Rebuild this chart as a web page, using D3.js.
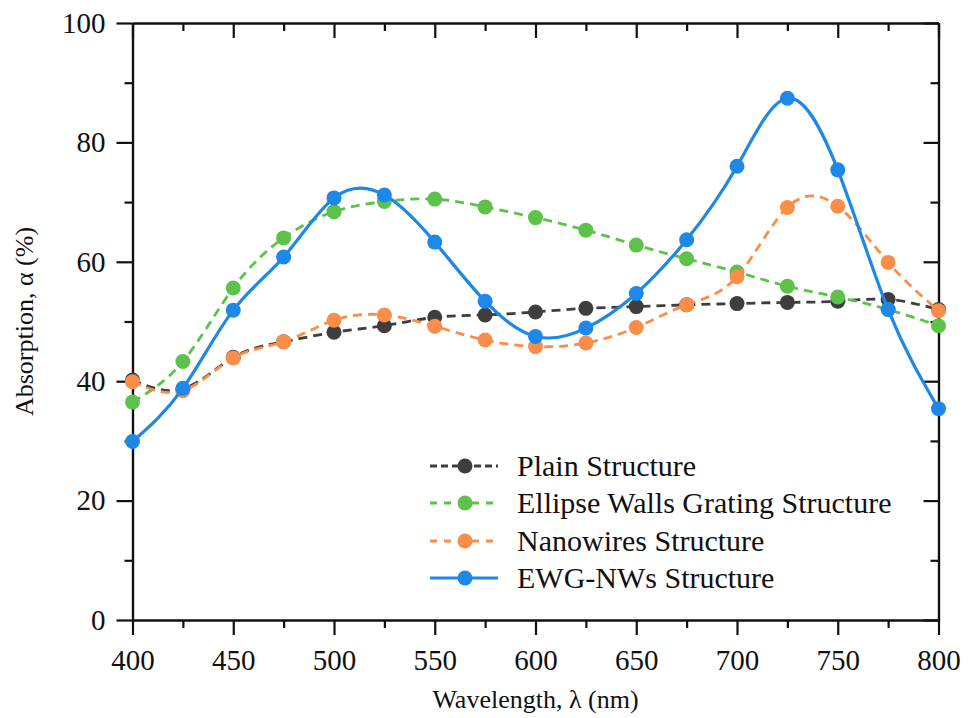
<!DOCTYPE html>
<html>
<head>
<meta charset="utf-8">
<script src="https://cdn.jsdelivr.net/npm/d3@7"></script>
<style>
body { margin: 0; background: #fff; }
text { font-family: "Liberation Serif", "Times New Roman", serif; fill: #111; }
</style>
</head>
<body>
<div id="chart"></div>
<script>
var width = 975;
var height = 718;

// data
var wavelengths = [400, 425, 450, 475, 500, 525, 550, 575, 600, 625, 650, 675, 700, 725, 750, 775, 800];
var plain =    [40.2, 38.7, 44.0, 46.6, 48.2, 49.3, 50.7, 51.1, 51.6, 52.2, 52.5, 52.8, 53.0, 53.2, 53.4, 53.7, 52.0];
var ellipse =  [36.5, 43.3, 55.6, 64.0, 68.4, 70.1, 70.5, 69.2, 67.4, 65.3, 62.8, 60.5, 58.3, 55.9, 54.1, 52.0, 49.3];
var nanowire = [39.9, 38.4, 43.9, 46.6, 50.2, 51.1, 49.2, 46.9, 45.8, 46.4, 49.0, 52.8, 57.5, 69.1, 69.3, 59.9, 51.8];
var ewgnw =    [29.9, 38.8, 51.9, 60.8, 70.7, 71.2, 63.3, 53.4, 47.5, 48.9, 54.7, 63.7, 76.0, 87.4, 75.4, 52.0, 35.4];

var seriesNames = ["Plain Structure", "Ellipse Walls Grating Structure", "Nanowires Structure", "EWG-NWs Structure"];
var seriesColors = ["#3e3e3e", "#5cc24a", "#fa8d48", "#1e88e8"];
var seriesDash = ["9,6", "9,6", "9,6", null];
var seriesValues = [plain, ellipse, nanowire, ewgnw];

var xMajor = [400, 450, 500, 550, 600, 650, 700, 750, 800];
var xMinor = [425, 475, 525, 575, 625, 675, 725, 775];
var yMajor = [0, 20, 40, 60, 80, 100];
var yMinor = [10, 30, 50, 70, 90];

// plot box (note: "top" is a reserved window property, so use other names)
var plotLeft = 132.5, plotRight = 938.5, plotTop = 23, plotBottom = 620;

var svg = d3.select("#chart").append("svg").attr("width", width).attr("height", height);

var x = d3.scaleLinear().domain([400, 800]).range([plotLeft, plotRight]);
var y = d3.scaleLinear().domain([0, 100]).range([plotBottom, plotTop]);

// axes
function styleAxis(g) {
    g.selectAll("path").attr("stroke", "#111").attr("stroke-width", 2.2);
    g.selectAll("line").attr("stroke", "#111").attr("stroke-width", 2.2);
    g.selectAll("text").attr("font-size", "29px").attr("font-family", "Liberation Serif").attr("fill", "#111");
}

var bottomAxis = svg.append("g").attr("transform", "translate(0," + plotBottom + ")")
    .call(d3.axisBottom(x).tickValues(xMajor).tickSize(15).tickPadding(14).tickSizeOuter(0));
styleAxis(bottomAxis);
var bottomMinor = svg.append("g").attr("transform", "translate(0," + plotBottom + ")")
    .call(d3.axisBottom(x).tickValues(xMinor).tickSize(8).tickFormat("").tickSizeOuter(0));
styleAxis(bottomMinor);

var topAxis = svg.append("g").attr("transform", "translate(0," + plotTop + ")")
    .call(d3.axisBottom(x).tickValues(xMajor).tickSize(15).tickFormat("").tickSizeOuter(0));
styleAxis(topAxis);
var topMinor = svg.append("g").attr("transform", "translate(0," + plotTop + ")")
    .call(d3.axisBottom(x).tickValues(xMinor).tickSize(8).tickFormat("").tickSizeOuter(0));
styleAxis(topMinor);

var leftAxis = svg.append("g").attr("transform", "translate(" + plotLeft + ",0)")
    .call(d3.axisLeft(y).tickValues(yMajor).tickSize(16).tickPadding(11).tickSizeOuter(0));
styleAxis(leftAxis);
var leftMinor = svg.append("g").attr("transform", "translate(" + plotLeft + ",0)")
    .call(d3.axisLeft(y).tickValues(yMinor).tickSize(8).tickFormat("").tickSizeOuter(0));
styleAxis(leftMinor);

var rightAxis = svg.append("g").attr("transform", "translate(" + plotRight + ",0)")
    .call(d3.axisLeft(y).tickValues(yMajor).tickSize(15).tickFormat("").tickSizeOuter(0));
styleAxis(rightAxis);
var rightMinor = svg.append("g").attr("transform", "translate(" + plotRight + ",0)")
    .call(d3.axisLeft(y).tickValues(yMinor).tickSize(8).tickFormat("").tickSizeOuter(0));
styleAxis(rightMinor);

// axis titles
svg.append("text")
    .attr("x", (plotLeft + plotRight) / 2)
    .attr("y", 708)
    .attr("text-anchor", "middle")
    .attr("font-size", "26px")
    .text("Wavelength, \u03bb (nm)");

svg.append("text")
    .attr("transform", "translate(33," + ((plotTop + plotBottom) / 2) + ") rotate(-90)")
    .attr("text-anchor", "middle")
    .attr("font-size", "26px")
    .text("Absorption, \u03b1 (%)");

// series
var line = d3.line()
    .x(function(d, i) { return x(wavelengths[i]); })
    .y(function(d) { return y(d); })
    .curve(d3.curveNatural);

for (var s = 0; s < seriesValues.length; s++) {
    var vals = seriesValues[s];
    var path = svg.append("path")
        .attr("fill", "none")
        .attr("stroke", seriesColors[s])
        .attr("stroke-width", s == 3 ? 3.2 : 2.8)
        .attr("d", line(vals));
    if (seriesDash[s]) path.attr("stroke-dasharray", seriesDash[s]);

    svg.selectAll(".dot" + s)
        .data(vals)
        .enter()
        .append("circle")
        .attr("class", "dot" + s)
        .attr("cx", function(d, i) { return x(wavelengths[i]); })
        .attr("cy", function(d) { return y(d); })
        .attr("r", 7.5)
        .attr("fill", seriesColors[s]);
}

// legend
var legendY = [466, 503, 541, 578];
for (var k = 0; k < seriesNames.length; k++) {
    var ly = legendY[k];
    var lg = svg.append("line")
        .attr("x1", 430).attr("x2", 498)
        .attr("y1", ly).attr("y2", ly)
        .attr("stroke", seriesColors[k])
        .attr("stroke-width", k == 3 ? 3.2 : 2.8);
    if (seriesDash[k]) lg.attr("stroke-dasharray", k == 0 ? "7,4" : "7,7");
    svg.append("circle")
        .attr("cx", 465).attr("cy", ly).attr("r", 7.5)
        .attr("fill", seriesColors[k]);
    svg.append("text")
        .attr("x", 517)
        .attr("y", ly + 10)
        .attr("font-size", "30px")
        .text(seriesNames[k]);
}
</script>
</body>
</html>
